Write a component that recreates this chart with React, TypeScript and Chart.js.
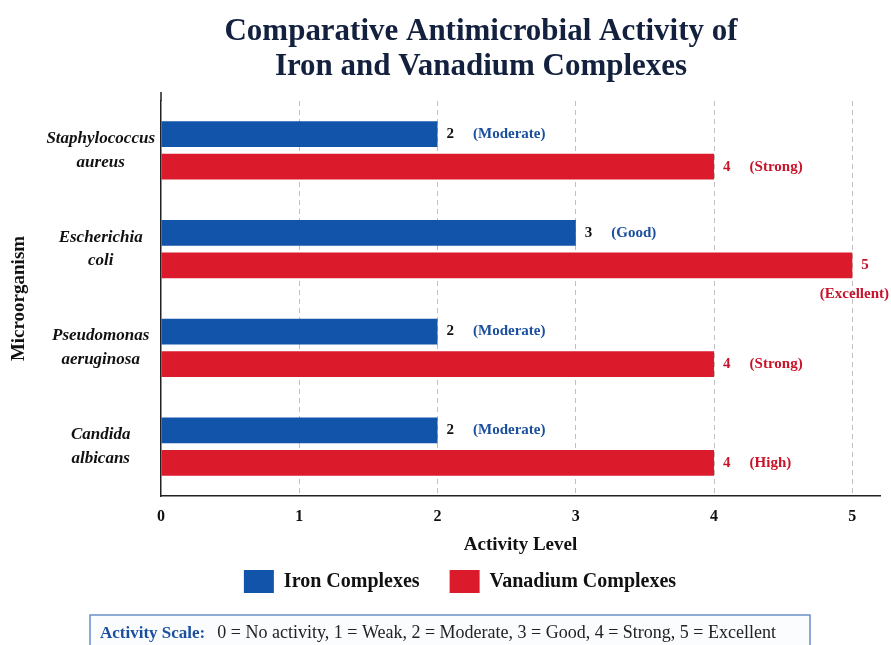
import React, { useEffect, useRef } from "react";
import { Chart, registerables } from "chart.js";

Chart.register(...registerables);

// ---- data ----
const organisms: string[][] = [
  ["Staphylococcus", "aureus"],
  ["Escherichia", "coli"],
  ["Pseudomonas", "aeruginosa"],
  ["Candida", "albicans"],
];
const ironValues = [2, 3, 2, 2];
const vanadiumValues = [4, 5, 4, 4];
const ironDescriptors = ["Moderate", "Good", "Moderate", "Moderate"];
const vanadiumDescriptors = ["Strong", "Excellent", "Strong", "High"];
const xTickValues = [0, 1, 2, 3, 4, 5];
const seriesNames = ["Iron Complexes", "Vanadium Complexes"];
const titleLines = ["Comparative Antimicrobial Activity of", "Iron and Vanadium Complexes"];
const xAxisTitle = "Activity Level";
const yAxisTitle = "Microorganism";
const scaleNoteLabel = "Activity Scale:";
const scaleNoteText = "0 = No activity, 1 = Weak, 2 = Moderate, 3 = Good, 4 = Strong, 5 = Excellent";

// ---- styles ----
const SERIF = '"Liberation Serif", "Times New Roman", serif';
const BLUE = "#1154aa";
const RED = "#db1a2c";
const BLUE_TEXT = "#1a4f9e";
const RED_TEXT = "#c8142b";
const TITLE_COLOR = "#13213f";

const titlePlugin = {
  id: "customTitle",
  afterDraw(chart: any) {
    const ctx = chart.ctx;
    ctx.save();
    ctx.font = `bold 32px ${SERIF}`;
    ctx.fillStyle = TITLE_COLOR;
    ctx.textAlign = "center";
    ctx.textBaseline = "alphabetic";
    const cx = 481;
    const w = ctx.measureText(titleLines[0]).width;
    const sx = Math.min(1, 513 / w);
    ctx.translate(cx, 0);
    ctx.scale(sx, 1);
    ctx.fillText(titleLines[0], 0, 40);
    ctx.fillText(titleLines[1], 0, 75);
    ctx.restore();
  },
};

const axisExtendPlugin = {
  id: "axisExtend",
  afterDraw(chart: any) {
    const { ctx, chartArea } = chart;
    ctx.save();
    ctx.strokeStyle = "#222";
    ctx.lineWidth = 1.5;
    ctx.beginPath();
    ctx.moveTo(chartArea.left, chartArea.top - 9);
    ctx.lineTo(chartArea.left, chartArea.top);
    ctx.stroke();
    ctx.restore();
  },
};

const notePlugin = {
  id: "scaleNote",
  afterDraw(chart: any) {
    const ctx = chart.ctx;
    ctx.save();
    ctx.fillStyle = "#fbfcfe";
    ctx.strokeStyle = "#6a8fc6";
    ctx.lineWidth = 1.5;
    ctx.fillRect(90, 615, 720, 40);
    ctx.strokeRect(90, 615, 720, 40);
    ctx.textBaseline = "alphabetic";
    ctx.textAlign = "left";
    ctx.font = `bold 17px ${SERIF}`;
    ctx.fillStyle = BLUE_TEXT;
    const x0 = 100;
    const yb = 638;
    ctx.fillText(scaleNoteLabel, x0, yb);
    const w = ctx.measureText(scaleNoteLabel).width;
    ctx.font = `18px ${SERIF}`;
    ctx.fillStyle = "#222";
    ctx.fillText(scaleNoteText, x0 + w + 12, yb);
    ctx.restore();
  },
};

const barLabelPlugin = {
  id: "barLabels",
  afterDatasetsDraw(chart: any) {
    const ctx = chart.ctx;
    chart.data.datasets.forEach((ds: any, di: number) => {
      const meta = chart.getDatasetMeta(di);
      const descs = di === 0 ? ironDescriptors : vanadiumDescriptors;
      const color = di === 0 ? BLUE_TEXT : RED_TEXT;
      meta.data.forEach((bar: any, i: number) => {
        const { x, y } = bar.getProps(["x", "y"], true);
        const val = String(ds.data[i]);
        const desc = `(${descs[i]})`;
        ctx.save();
        ctx.font = `bold 15px ${SERIF}`;
        ctx.textBaseline = "middle";
        ctx.textAlign = "left";
        const numX = x + 9;
        const numW = ctx.measureText(val).width;
        const descW = ctx.measureText(desc).width;
        ctx.fillStyle = di === 0 ? "#111" : RED_TEXT;
        ctx.fillText(val, numX, y);
        const descX = numX + numW + 19;
        ctx.fillStyle = color;
        if (descX + descW > chart.width - 2) {
          ctx.textAlign = "right";
          ctx.fillText(desc, chart.width - 2, y + 29);
        } else {
          ctx.fillText(desc, descX, y);
        }
        ctx.restore();
      });
    });
  },
};

export default function App() {
  const canvasRef = useRef<HTMLCanvasElement | null>(null);

  useEffect(() => {
    if (!canvasRef.current) return;
    const chart = new Chart(canvasRef.current, {
      type: "bar",
      data: {
        labels: organisms,
        datasets: [
          {
            label: seriesNames[0],
            data: ironValues,
            backgroundColor: BLUE,
            borderWidth: 0,
            categoryPercentage: 0.66,
            barPercentage: 0.79,
          },
          {
            label: seriesNames[1],
            data: vanadiumValues,
            backgroundColor: RED,
            borderWidth: 0,
            categoryPercentage: 0.66,
            barPercentage: 0.79,
          },
        ],
      },
      options: {
        indexAxis: "y",
        animation: false,
        responsive: true,
        maintainAspectRatio: false,
        layout: { padding: { top: 101, bottom: 42, left: 40, right: 11 } },
        plugins: {
          title: { display: false },
          tooltip: { enabled: false },
          legend: {
            display: true,
            position: "bottom",
            labels: {
              boxWidth: 30,
              boxHeight: 23,
              padding: 30,
              color: "#111",
              font: { family: SERIF, size: 20, weight: "bold" },
            },
          },
        },
        scales: {
          x: {
            type: "linear",
            min: 0,
            max: 5.2,
            afterBuildTicks: (scale: any) => {
              scale.ticks = xTickValues.map((v) => ({ value: v }));
            },
            ticks: {
              padding: 11,
              color: "#111",
              font: { family: SERIF, size: 16, weight: "bold" },
            },
            grid: {
              display: true,
              drawTicks: false,
              color: (c: any) => (c.tick && c.tick.value === 0 ? "rgba(0,0,0,0)" : "#c0c0c0"),
              lineWidth: 1,
            },
            border: { display: true, color: "#222", width: 1.5, dash: [5, 4] },
            title: {
              display: true,
              text: xAxisTitle,
              color: "#111",
              font: { family: SERIF, size: 19, weight: "bold" },
              padding: { top: -4, bottom: -16 },
            },
          },
          y: {
            type: "category",
            afterFit: (scale: any) => {
              scale.width = 121;
            },
            ticks: {
              crossAlign: "center",
              padding: 6,
              color: "#111",
              font: { family: SERIF, size: 17, weight: "bold", style: "italic", lineHeight: 1.4 },
            },
            grid: { display: false, drawTicks: false },
            border: { display: true, color: "#222", width: 1.5 },
            title: {
              display: true,
              text: yAxisTitle,
              color: "#111",
              font: { family: SERIF, size: 19, weight: "bold" },
              padding: { top: -32, bottom: 4 },
            },
          },
        },
      },
      plugins: [titlePlugin, axisExtendPlugin, notePlugin, barLabelPlugin],
    } as any);
    return () => chart.destroy();
  }, []);

  return (
    <div style={{ position: "fixed", left: 0, top: 0, width: 891, height: 645, background: "#fff" }}>
      <canvas ref={canvasRef} />
    </div>
  );
}
